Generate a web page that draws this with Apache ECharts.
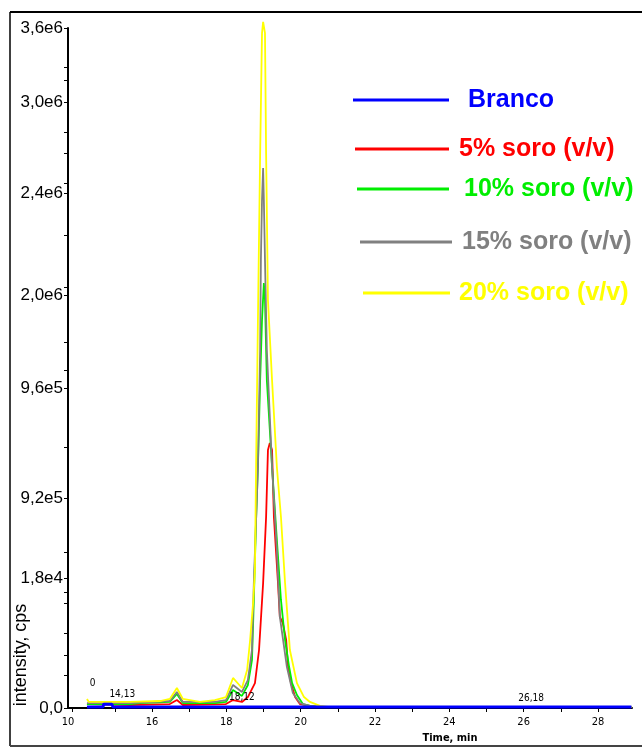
<!DOCTYPE html>
<html>
<head>
<meta charset="utf-8">
<script src="https://cdn.jsdelivr.net/npm/echarts@6/dist/echarts.min.js"></script>
<style>html,body{margin:0;padding:0;background:#fff;}#c{width:642px;height:749px;}</style>
</head>
<body>
<div id="c"></div>
<script>
// ---- data (time in min, intensity in cps) ----
const seriesNames = ['Branco', '5% soro (v/v)', '10% soro (v/v)', '15% soro (v/v)', '20% soro (v/v)'];

const blueT = [14.25, 14.68, 14.70, 14.92, 14.95, 28.9];
const blueV = [5e3, 5e3, 20e3, 20e3, 5e3, 5e3];

const redT = [14.25,15.41,16.48,16.67,16.83,17.99,18.18,18.42,18.58,18.77,18.88,18.99,19.07,19.12,19.17,19.23,19.28,19.39,19.44,19.52,19.61,19.66,19.74,19.85,19.98,20.25,20.52,28.9];
const redV = [21e3,16e3,21e3,42e3,16e3,21e3,42e3,32e3,58e3,132e3,307e3,662e3,1011e3,1366e3,1403e3,1366e3,1011e3,662e3,482e3,450e3,360e3,217e3,132e3,58e3,21e3,11e3,5e3,5e3];

const greenT = [14.25,15.41,15.68,16.48,16.67,16.83,17.69,17.99,18.18,18.42,18.58,18.69,18.74,18.80,18.85,18.91,18.96,19.01,19.04,19.09,19.23,19.36,19.47,19.58,19.69,19.77,19.90,20.06,20.25,20.52,28.9];
const greenV = [21e3,21e3,26e3,32e3,74e3,26e3,26e3,32e3,95e3,64e3,122e3,254e3,572e3,995e3,1276e3,1736e3,2054e3,2250e3,2160e3,1736e3,1276e3,889e3,572e3,360e3,217e3,132e3,69e3,21e3,11e3,5e3,5e3];

const grayT = [14.25,15.41,16.48,16.67,16.83,17.69,17.99,18.18,18.42,18.58,18.69,18.74,18.80,18.85,18.91,18.93,18.96,18.99,19.01,19.04,19.09,19.23,19.36,19.44,19.63,19.79,19.98,20.25,20.52,28.9];
const grayV = [26e3,26e3,37e3,85e3,32e3,32e3,42e3,122e3,85e3,148e3,307e3,662e3,995e3,1276e3,1895e3,2372e3,2689e3,2859e3,2689e3,2372e3,1895e3,1276e3,836e3,482e3,217e3,79e3,26e3,11e3,5e3,5e3];

const yellowT = [14.25,14.30,14.60,15.41,16.22,16.48,16.67,16.83,17.29,17.69,17.99,18.18,18.42,18.56,18.64,18.72,18.77,18.80,18.85,18.91,18.96,18.99,19.04,19.07,19.12,19.23,19.36,19.47,19.58,19.71,19.90,20.09,20.25,20.52,20.79,28.9];
const yellowV = [48e3,32e3,32e3,32e3,37e3,48e3,106e3,48e3,32e3,42e3,58e3,159e3,106e3,201e3,360e3,556e3,731e3,1276e3,2054e3,2938e3,3573e3,3632e3,3573e3,2938e3,2160e3,1736e3,1276e3,1011e3,662e3,307e3,132e3,58e3,32e3,11e3,5e3,5e3];

// peak annotations
const annText = ['0', '14,13', '18,12', '26,18'];
const annT = [14.4, 15.2, 18.42, 26.2];
const annV = [132e3, 74e3, 58e3, 53e3];

// axis tick labels (as printed on the original)
const xLabelValues = [13.74, 16, 18, 20, 22, 24, 26, 28];
const xLabelTexts  = ['10', '16', '18', '20', '22', '24', '26', '28'];
const xTickValues  = [13.85, 15, 16, 17, 18, 19, 20, 21, 22, 23, 24, 25, 26, 27, 28];
const yLabelValues = [0, 688e3, 1112e3, 1694e3, 2186e3, 2726e3, 3208e3, 3600e3];
const yLabelTexts  = ['0,0', '1,8e4', '9,2e5', '9,6e5', '2,0e6', '2,4e6', '3,0e6', '3,6e6'];
const yTickValues  = [0, 175e3, 281e3, 397e3, 556e3, 614e3, 688e3, 826e3, 1112e3, 1382e3, 1694e3, 1789e3, 1938e3, 2186e3, 2229e3, 2504e3, 2726e3, 2779e3, 2938e3, 3049e3, 3208e3, 3325e3, 3393e3, 3600e3];
const yAxisTitle = 'intensity, cps';

// ---- chart ----
const colors = ['#0000ff', '#ff0000', '#00ee00', '#808080', '#ffff00'];
const seriesData = [[blueT, blueV], [redT, redV], [greenT, greenV], [grayT, grayV], [yellowT, yellowV]];
const pairs = (t, v) => t.map((x, i) => [x, v[i]]);

const legendPos = [
  {left: 353, cy: 100, w: 96, pad: 14, h: 3},
  {left: 355, cy: 149, w: 94, pad: 5, h: 3},
  {left: 357, cy: 189, w: 92, pad: 10, h: 3},
  {left: 360, cy: 242, w: 92, pad: 5, h: 3},
  {left: 363, cy: 293, w: 87, pad: 4, h: 3}
];

const drawOrder = [4, 3, 2, 1, 0];
const series = drawOrder.map(i => {
  const s = {
    name: seriesNames[i],
    type: 'line',
    data: pairs(seriesData[i][0], seriesData[i][1]),
    showSymbol: false,
    symbol: 'none',
    clip: false,
    color: colors[i],
    lineStyle: {color: colors[i], width: i === 0 ? 3 : 1.8},
    animation: false,
    z: 2 + (4 - drawOrder.indexOf(i))
  };
  if (i === 0) {
    s.z = 10;
    s.markPoint = {
      symbol: 'circle', symbolSize: 0, animation: false,
      label: {show: true, position: 'inside', color: '#000', fontSize: 10,
        fontFamily: 'Liberation Sans Narrow, DejaVu Sans Condensed, Arial', formatter: p => p.name},
      data: annText.map((txt, k) => ({name: txt, coord: [annT[k], annV[k]]}))
    };
  }
  return s;
});

const legends = [0,1,2,3,4].map(i => ({
  data: [seriesNames[i]],
  left: legendPos[i].left,
  top: legendPos[i].cy - 15,
  padding: 0,
  itemWidth: legendPos[i].w,
  itemHeight: legendPos[i].h,
  icon: 'rect',
  selectedMode: false,
  textStyle: {color: colors[i], fontSize: 25, fontWeight: 'bold', fontFamily: 'Arial, Liberation Sans',
    lineHeight: 30, padding: [0, 0, 0, legendPos[i].pad]}
}));

const chart = echarts.init(document.getElementById('c'), null, {renderer: 'canvas'});
chart.setOption({
  backgroundColor: '#fff',
  animation: false,
  legend: legends,
  grid: {left: 68, right: 10, top: 28, bottom: 41, containLabel: false, outerBoundsMode: 'none'},
  xAxis: {
    type: 'value', min: 13.74, max: 28.915,
    name: 'Time, min', nameLocation: 'middle', nameGap: 24,
    nameTextStyle: {fontSize: 11, fontWeight: 'bold', color: '#000',
      fontFamily: 'Liberation Sans Narrow, DejaVu Sans Condensed, Arial', padding: [0, 0, 0, 200]},
    axisLine: {lineStyle: {color: '#000', width: 2}},
    axisTick: {show: true, length: 4, lineStyle: {color: '#000'}, customValues: xTickValues},
    axisLabel: {color: '#000', fontSize: 11, margin: 9,
      fontFamily: 'Liberation Sans Narrow, DejaVu Sans Condensed, Arial',
      customValues: xLabelValues,
      formatter: v => { const k = xLabelValues.findIndex(x => Math.abs(x - v) < 1e-6); return k >= 0 ? xLabelTexts[k] : ''; }},
    splitLine: {show: false}
  },
  yAxis: {
    type: 'value', min: 0, max: 3.6e6,
    axisLine: {show: true, lineStyle: {color: '#000', width: 2}},
    axisTick: {show: true, length: 4, lineStyle: {color: '#000'}, customValues: yTickValues},
    axisLabel: {color: '#000', fontSize: 17, margin: 5, fontFamily: 'Arial, Liberation Sans',
      customValues: yLabelValues,
      formatter: v => { const k = yLabelValues.findIndex(x => Math.abs(x - v) < 1); return k >= 0 ? yLabelTexts[k] : ''; }},
    splitLine: {show: false}
  },
  graphic: [
    {type: 'line', shape: {x1: 10, y1: 12, x2: 642, y2: 12}, style: {stroke: '#000', lineWidth: 2}, silent: true},
    {type: 'line', shape: {x1: 10, y1: 12, x2: 10, y2: 746}, style: {stroke: '#000', lineWidth: 1.5}, silent: true},
    {type: 'line', shape: {x1: 10, y1: 746, x2: 642, y2: 746}, style: {stroke: '#444', lineWidth: 2}, silent: true},
    {type: 'text', x: 21, y: 655, rotation: Math.PI / 2, silent: true,
      style: {text: yAxisTitle, fill: '#000', font: '18px Arial, "Liberation Sans"', align: 'center', verticalAlign: 'middle'}}
  ],
  series: series
});
</script>
</body>
</html>
